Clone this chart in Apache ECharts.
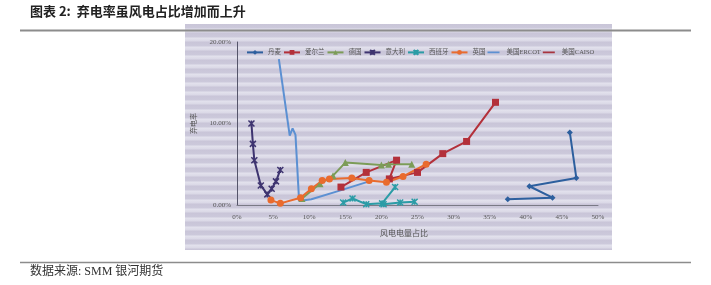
<!DOCTYPE html>
<html>
<head>
<meta charset="utf-8">
<script src="https://cdn.jsdelivr.net/npm/echarts@6/dist/echarts.min.js"></script>
<style>
  html, body { margin: 0; padding: 0; background: #ffffff; }
  #wrap { position: relative; width: 711px; height: 285px; overflow: hidden; }
  #photo {
    position: absolute; left: 185px; top: 24px; width: 427px; height: 226px;
    background: repeating-linear-gradient(180deg, #c9c5d8 0px, #ccc9db 4px, #e3e2ed 5px, #dad8e6 8px, #c9c5d8 9px);
  }
  #chart { position: absolute; left: 0; top: 0; width: 711px; height: 285px; }
</style>
</head>
<body>
<div id="wrap">
  <div id="photo"></div>
  <div id="chart"></div>
</div>
<script>
// 风电电量占比 (%) vs 弃电率 (%), by market
const seriesNames = ['丹麦', '爱尔兰', '德国', '意大利', '西班牙', '英国', '美国ERCOT', '美国CAISO'];

const denmark = [[37.5, 0.7], [43.7, 0.9], [40.5, 2.3], [47.0, 3.3], [46.1, 8.9]];
const ireland = [[14.4, 2.2], [17.9, 4.0], [22.1, 5.5], [21.1, 3.2], [25.0, 4.0], [28.5, 6.3], [31.8, 7.8], [35.8, 12.6]];
const germany = [[9.0, 0.8], [11.5, 2.6], [13.3, 3.6], [15.0, 5.2], [20.0, 4.9], [21.0, 5.0], [24.2, 5.0]];
const italy = [[2.0, 10.0], [2.2, 7.5], [2.4, 5.5], [3.3, 2.4], [4.2, 1.3], [4.8, 2.0], [5.4, 2.9], [6.0, 4.3]];
const spain = [[14.7, 0.3], [16.0, 0.8], [17.9, 0.1], [20.1, 0.2], [21.9, 2.2], '-', [20.3, 0.1], [22.6, 0.3], [24.6, 0.4]];
const uk = [[4.7, 0.6], [6.0, 0.2], [8.8, 0.9], [10.3, 2.0], [11.8, 3.0], [12.8, 3.2], [15.9, 3.3], [18.3, 3.0], [20.7, 2.8], [23.0, 3.5], [26.2, 5.0]];
const ercot = [[5.8, 17.9], [7.3, 8.5], [7.7, 9.4], [8.1, 8.6], [8.6, 0.5], [10.3, 0.7], [14.0, 1.7], [18.3, 2.9]];
const caiso = [];

const seriesData = [denmark, ireland, germany, italy, spain, uk, ercot, caiso];
const seriesColors = ['#2d5f9e', '#b3303a', '#7c9c58', '#3e3470', '#2b9ca6', '#e96b2e', '#5c90d2', '#a8343e'];

const xTicks = { min: 0, max: 50, step: 5 };
const yTicks = { min: 0, max: 20, step: 10 };

const crossPath = 'path://M0,0L10,10M10,0L0,10M5,0L5,10';
// plain line swatch for series drawn without markers
const lineOnlyIcon = 'path://M0,0h1v0.01h-1z M0,3.6h20v2.8h-20z M0,9.99h1v0.01h-1z';
const symbols = ['diamond', 'rect', 'triangle', crossPath, crossPath, 'circle', 'none', 'none'];
const symbolSizes = [6, 7, 7, 6, 6, 7, 0, 0];

const chart = echarts.init(document.getElementById('chart'), null, { renderer: 'canvas' });

const serifFont = '"Liberation Serif", "Noto Sans CJK SC", serif';
const cjk = '"Noto Sans CJK SC", sans-serif';

chart.setOption({
  animation: false,
  backgroundColor: 'transparent',
  grid: { left: 237, top: 42, right: 113, bottom: 80, containLabel: false },
  legend: {
    left: 241, top: 44,
    itemWidth: 16, itemHeight: 6, itemGap: 2,
    textStyle: { fontSize: 6.5, color: '#555', fontFamily: serifFont },
    data: seriesNames.map((n, i) => symbols[i] === 'none' ? { name: n, icon: lineOnlyIcon } : { name: n })
  },
  xAxis: {
    type: 'value', min: xTicks.min, max: xTicks.max, interval: xTicks.step,
    axisLine: { show: true, lineStyle: { color: '#7a7a86', width: 1 } },
    axisTick: { show: false },
    splitLine: { show: false },
    axisLabel: { formatter: '{value}%', fontSize: 7, color: '#555', fontFamily: serifFont, margin: 9 }
  },
  yAxis: {
    type: 'value', min: yTicks.min, max: yTicks.max, interval: yTicks.step,
    axisLine: { show: true, lineStyle: { color: '#55556a', width: 1 } },
    axisTick: { show: false },
    splitLine: { show: false },
    axisLabel: { formatter: v => v.toFixed(2) + '%', fontSize: 7, color: '#555', fontFamily: serifFont, margin: 6 },
    name: '弃电率', nameLocation: 'middle', nameGap: 40, nameRotate: 90,
    nameTextStyle: { fontSize: 7, color: '#555', fontFamily: cjk }
  },
  graphic: [
    { type: 'text', left: 30, top: 5, style: { text: '图表 2:  弃电率虽风电占比增加而上升', fontSize: 13, fontWeight: 'bold', fill: '#222', fontFamily: cjk } },
    { type: 'line', shape: { x1: 20, y1: 30.5, x2: 691, y2: 30.5 }, style: { stroke: '#8c8c8c', lineWidth: 2 } },
    { type: 'line', shape: { x1: 20, y1: 262.5, x2: 691, y2: 262.5 }, style: { stroke: '#8c8c8c', lineWidth: 1.5 } },
    { type: 'text', left: 30, top: 266, style: { text: '数据来源: SMM 银河期货', fontSize: 12, fill: '#333', fontFamily: '"Liberation Serif", "Noto Sans CJK SC", serif' } },
    { type: 'text', x: 404, y: 233, style: { text: '风电电量占比', fontSize: 8, fill: '#555', fontFamily: cjk, align: 'center', verticalAlign: 'middle' } }
  ],
  series: seriesNames.map((name, i) => ({
    name,
    type: 'line',
    data: seriesData[i],
    connectNulls: false,
    symbol: symbols[i],
    symbolSize: symbolSizes[i],
    showSymbol: symbols[i] !== 'none',
    lineStyle: { color: seriesColors[i], width: 2 },
    itemStyle: { color: seriesColors[i], borderColor: seriesColors[i], borderWidth: (i === 3 || i === 4) ? 1.5 : 0 },
    z: 2
  }))
});
</script>
</body>
</html>
